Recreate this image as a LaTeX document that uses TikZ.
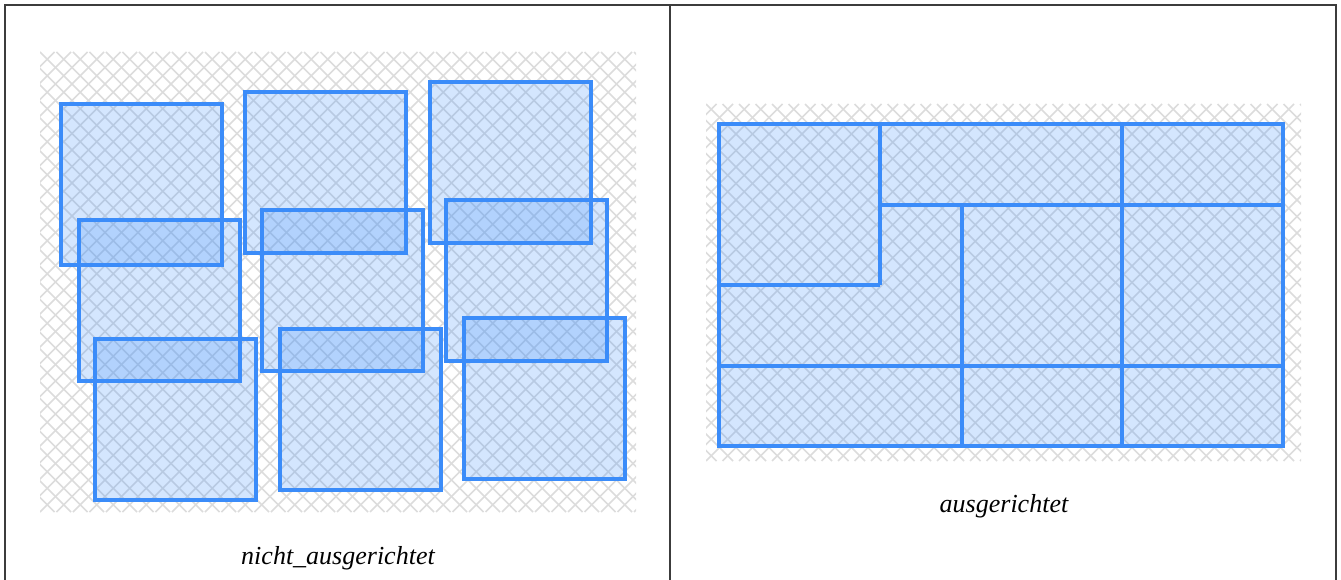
\documentclass[tikz,border=0pt]{standalone}
\usepackage{fontspec}
\setmainfont{Liberation Serif}
\definecolor{boxblue}{RGB}{59,140,249}
\definecolor{hatchgray}{RGB}{220,220,220}
\definecolor{framegray}{RGB}{60,60,60}
\tikzset{
  boxfill/.style={fill=boxblue, fill opacity=0.22},
  boxline/.style={draw=boxblue, line width=3.4pt},
  hatchline/.style={draw=hatchgray, line width=1.6pt},
  frameline/.style={draw=framegray, line width=2pt},
  caption/.style={font=\fontsize{26}{30}\selectfont\itshape, anchor=base, inner sep=0pt}
}
\begin{document}
\begin{tikzpicture}[x=1pt,y=-1pt]
\useasboundingbox (0,0) rectangle (1341,580);
% frame
\draw[frameline] (5,582) -- (5,5) -- (1336,5) -- (1336,582);
\draw[frameline] (670,5) -- (670,582);
% hatch left
\begin{scope}
\clip (40,52) rectangle (636,512);
\foreach \k in {-32,...,40} {
  \draw[hatchline] ({40+16.5*\k},52) -- ({40+16.5*\k+460},512);
  \draw[hatchline] ({40+16.5*\k},512) -- ({40+16.5*\k+460},52);
}
\end{scope}
% hatch right
\begin{scope}
\clip (706,104) rectangle (1301,461);
\foreach \k in {-25,...,40} {
  \draw[hatchline] ({706+16.5*\k},104) -- ({706+16.5*\k+357},461);
  \draw[hatchline] ({706+16.5*\k},461) -- ({706+16.5*\k+357},104);
}
\end{scope}
% left boxes: fills
\foreach \x/\y in {61/104,245/92,430/82,79/220,262/210,446/200,95/339,280/329,464/318} {
  \fill[boxfill] (\x,\y) rectangle ++(161,161);
}
\foreach \x/\y in {61/104,245/92,430/82,79/220,262/210,446/200,95/339,280/329,464/318} {
  \draw[boxline] (\x,\y) rectangle ++(161,161);
}
% right grid
\fill[boxfill] (719,124) rectangle (1283,446);
\draw[boxline] (719,124) rectangle (1283,446);
\draw[boxline] (880,124) -- (880,285);
\draw[boxline] (962,205) -- (962,446);
\draw[boxline] (1122,124) -- (1122,446);
\draw[boxline] (880,205) -- (1283,205);
\draw[boxline] (719,285) -- (880,285);
\draw[boxline] (719,366) -- (1283,366);
% captions
\node[caption] (capL) at (338,564) {nicht\_ausgerichtet};
\node[caption] (capR) at (1004,512) {ausgerichtet};
\end{tikzpicture}
\end{document}
